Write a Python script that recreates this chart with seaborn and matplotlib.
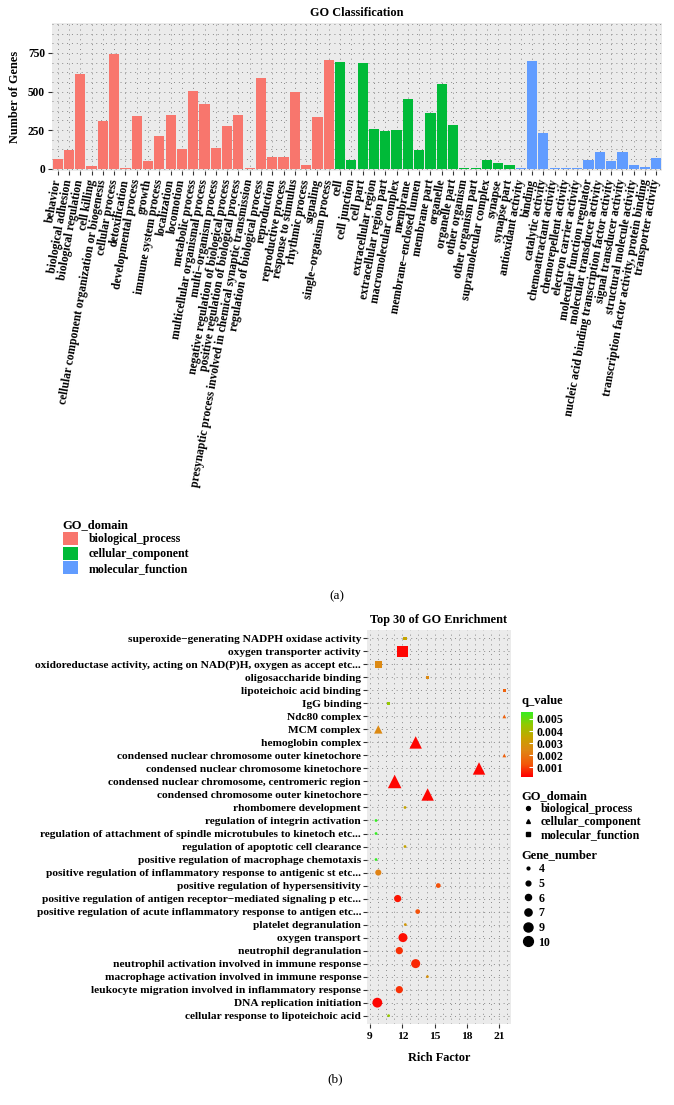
import seaborn as sns
import pandas as pd
import matplotlib.pyplot as plt
from matplotlib.colors import LinearSegmentedColormap, Normalize
from matplotlib.cm import ScalarMappable
from matplotlib.ticker import MultipleLocator
from matplotlib.patches import Patch
from matplotlib.lines import Line2D

plt.rcParams['font.family'] = ['Liberation Serif', 'DejaVu Serif']
plt.rcParams['font.weight'] = 'bold'

# ---- panel (a): GO classification ----
bp_terms = ["behavior", "biological adhesion", "biological regulation", "cell killing",
            "cellular component organization or biogenesis", "cellular process", "detoxification",
            "developmental process", "growth", "immune system process", "localization", "locomotion",
            "metabolic process", "multicellular organismal process", "multi\u2212organism process",
            "negative regulation of biological process", "positive regulation of biological process",
            "presynaptic process involved in chemical synaptic transmission",
            "regulation of biological process", "reproduction", "reproductive process",
            "response to stimulus", "rhythmic process", "signaling", "single\u2212organism process"]
bp_counts = [60, 124, 613, 15, 311, 746, 2, 341, 51, 214, 345, 129, 506, 420, 135,
             279, 345, 2, 585, 75, 75, 497, 21, 336, 703]

cc_terms = ["cell", "cell junction", "cell part", "extracellular region", "extracellular region part",
            "macromolecular complex", "membrane", "membrane\u2212enclosed lumen", "membrane part",
            "organelle", "organelle part", "other organism", "other organism part",
            "supramolecular complex", "synapse", "synapse part"]
cc_counts = [694, 56, 688, 259, 244, 253, 454, 124, 362, 546, 285, 2, 2, 54, 34, 24]

mf_terms = ["antioxidant activity", "binding", "catalytic activity", "chemoattractant activity",
            "chemorepellent activity", "electron carrier activity", "molecular function regulator",
            "molecular transducer activity", "nucleic acid binding transcription factor activity",
            "signal transducer activity", "structural molecule activity",
            "transcription factor activity, protein binding", "transporter activity"]
mf_counts = [4, 696, 229, 2, 2, 2, 58, 109, 51, 109, 24, 11, 71]

domains = ["biological_process", "cellular_component", "molecular_function"]
domain_colors = ["#F8766D", "#00BA38", "#619CFF"]

# ---- panel (b): top 30 GO enrichment ----
enr_terms = ["superoxide\u2212generating NADPH oxidase activity", "oxygen transporter activity",
             "oxidoreductase activity, acting on NAD(P)H, oxygen as accept etc...",
             "oligosaccharide binding", "lipoteichoic acid binding", "IgG binding", "Ndc80 complex",
             "MCM complex", "hemoglobin complex", "condensed nuclear chromosome outer kinetochore",
             "condensed nuclear chromosome kinetochore",
             "condensed nuclear chromosome, centromeric region",
             "condensed chromosome outer kinetochore", "rhombomere development",
             "regulation of integrin activation",
             "regulation of attachment of spindle microtubules to kinetoch etc...",
             "regulation of apoptotic cell clearance", "positive regulation of macrophage chemotaxis",
             "positive regulation of inflammatory response to antigenic st etc...",
             "positive regulation of hypersensitivity",
             "positive regulation of antigen receptor\u2212mediated signaling p etc...",
             "positive regulation of acute inflammatory response to antigen etc...",
             "platelet degranulation", "oxygen transport", "neutrophil degranulation",
             "neutrophil activation involved in immune response",
             "macrophage activation involved in immune response",
             "leukocyte migration involved in inflammatory response", "DNA replication initiation",
             "cellular response to lipoteichoic acid"]
enr_domain = ["molecular_function"] * 6 + ["cellular_component"] * 7 + ["biological_process"] * 17
rich_factor = [12.25, 12.03, 9.77, 14.35, 21.47, 10.73, 21.47, 9.77, 13.24, 21.47, 19.12, 11.29,
               14.35, 12.25, 9.56, 9.56, 12.25, 9.56, 9.77, 15.34, 11.57, 13.43, 12.28, 12.06,
               11.72, 13.24, 14.33, 11.72, 9.68, 10.73]
q_value = [0.0035, 0.0003, 0.0025, 0.0025, 0.0015, 0.0045, 0.0015, 0.0025, 0.0003, 0.0015,
           0.0003, 0.0003, 0.0003, 0.0035, 0.0056, 0.0056, 0.0035, 0.0056, 0.0023, 0.0012,
           0.0005, 0.0012, 0.0030, 0.0004, 0.0008, 0.0007, 0.0028, 0.0008, 0.0003, 0.0045]
gene_number = [4, 9, 6, 4, 4, 4, 4, 6, 9, 4, 9, 10, 9, 4, 4, 4, 4, 4, 6, 5, 7, 5, 4, 9, 7, 9, 4,
               7, 10, 4]

top = pd.DataFrame({
    "term": bp_terms + cc_terms + mf_terms,
    "count": bp_counts + cc_counts + mf_counts,
    "domain": [domains[0]] * len(bp_terms) + [domains[1]] * len(cc_terms) + [domains[2]] * len(mf_terms),
})
enr = pd.DataFrame({"term": enr_terms, "rich": rich_factor, "q": q_value,
                    "domain": enr_domain, "genes": gene_number})

W, H = 674, 1105
fig = plt.figure(figsize=(W / 100, H / 100), dpi=100)

def rect(x0, y0, x1, y1):
    return [x0 / W, 1 - y1 / H, (x1 - x0) / W, (y1 - y0) / H]

grid_kw = dict(color="#8a8a8a", linestyle=(0, (1, 4)), linewidth=0.7)

# panel (a)
ax1 = fig.add_axes(rect(52, 23, 662, 171))
ax1.set_facecolor("#EBEBEB")
sns.barplot(data=top, x="term", y="count", hue="domain", hue_order=domains,
            palette=domain_colors, dodge=False, width=0.9, saturation=1,
            linewidth=0, legend=False, ax=ax1)
ax1.set_axisbelow(True)
for s in ax1.spines.values():
    s.set_visible(False)
ax1.set_ylim(-15, 944)
ax1.set_xlim(-0.5, len(top) - 0.5)
ax1.set_yticks([0, 250, 500, 750])
ax1.yaxis.set_minor_locator(MultipleLocator(62.5))
ax1.grid(which="both", axis="y", **grid_kw)
ax1.grid(which="major", axis="x", **grid_kw)
ax1.tick_params(axis="y", which="minor", length=0)
ax1.tick_params(axis="both", which="major", length=3, color="#333333", labelsize=8.3, pad=2)
ax1.set_xticks(range(len(top)))
ax1.set_xticklabels(top["term"], rotation=80, ha="right", va="center",
                    rotation_mode="anchor", fontsize=8.4, fontweight="bold")
ax1.tick_params(axis="x", pad=3)
ax1.set_xlabel("")
ax1.set_ylabel("Number of Genes", fontsize=8.8, fontweight="bold", labelpad=5)
ax1.set_title("GO Classification", fontsize=8.8, fontweight="bold", pad=5)

fig.legend(handles=[Patch(facecolor=c, edgecolor="none", label=d) for d, c in zip(domains, domain_colors)],
           title="GO_domain", loc="upper left", bbox_to_anchor=(58 / W, 1 - 514 / H),
           frameon=False, fontsize=8.6, title_fontproperties={"weight": "bold", "size": 9},
           handlelength=1.3, handleheight=1.3, labelspacing=0.1, handletextpad=0.9,
           alignment="left", borderaxespad=0)
fig.text(337 / W, 1 - 596 / H, "(a)", fontsize=9.5, fontweight="normal", ha="center", va="center")

# panel (b)
cmap = LinearSegmentedColormap.from_list(
    "rg", ["#FF0000", "#F25A0A", "#DF8514", "#C7A300", "#93C800", "#33EE22"])
q_norm = (0.00023, 0.0056)
markers = {"biological_process": "o", "cellular_component": "^", "molecular_function": "s"}
size_range = (4, 50)
# ggplot's triangles and squares look bigger than circles of the same size
shape_scale = {"biological_process": 1.0, "cellular_component": 1.9, "molecular_function": 1.5}

ax2 = fig.add_axes(rect(367.3, 630, 510.7, 1024))
ax2.set_facecolor("#EBEBEB")
# place all categories first so the row order follows the list
ax2.scatter(enr["rich"], enr["term"], s=0)
for d in domains:
    sub = enr[enr["domain"] == d]
    sns.scatterplot(data=sub, x="rich", y="term", hue="q", size="genes",
                    palette=cmap, hue_norm=q_norm,
                    sizes=(size_range[0] * shape_scale[d], size_range[1] * shape_scale[d]),
                    size_norm=(4, 10), marker=markers[d], linewidth=0, legend=False,
                    ax=ax2, zorder=3)
ax2.set_axisbelow(True)
for s in ax2.spines.values():
    s.set_visible(False)
ax2.set_xlim(8.75, 22.06)
ax2.set_ylim(len(enr) - 0.36, -0.64)
ax2.set_xticks([9, 12, 15, 18, 21])
ax2.xaxis.set_minor_locator(MultipleLocator(0.75))
ax2.grid(which="both", axis="x", **grid_kw)
ax2.grid(which="major", axis="y", **grid_kw)
ax2.tick_params(axis="x", which="minor", length=0)
ax2.tick_params(axis="both", which="major", length=3, color="#333333", labelsize=8.2, pad=1.5)
ax2.tick_params(axis="x", pad=3)
ax2.set_xlabel("Rich Factor", fontsize=8.8, fontweight="bold", labelpad=8)
ax2.set_ylabel("")
ax2.set_title("Top 30 of GO Enrichment", fontsize=8.8, fontweight="bold", pad=5)

cax = fig.add_axes(rect(521, 711.7, 533.3, 776.7))
cb = fig.colorbar(ScalarMappable(norm=Normalize(*q_norm), cmap=cmap), cax=cax,
                  ticks=[0.001, 0.002, 0.003, 0.004, 0.005], format="%.3f")
cb.outline.set_visible(False)
cax.tick_params(color="white", length=3, width=0.8, direction="in", labelsize=8.6, pad=2)
fig.text(521 / W, 1 - 701 / H, "q_value", fontsize=9, fontweight="bold", va="center")

shape_handles = [Line2D([], [], marker=markers[d], color="black", linestyle="", markersize=2.8,
                        label=d) for d in domains]
fig.legend(handles=shape_handles, title="GO_domain", loc="upper left",
           bbox_to_anchor=(517 / W, 1 - 785 / H), frameon=False, fontsize=8.6,
           title_fontproperties={"weight": "bold", "size": 9}, handlelength=1.0,
           labelspacing=0.1, handletextpad=0.6, alignment="left", borderaxespad=0)

size_vals = sorted(set(gene_number))
size_handles = []
for v in size_vals:
    area = size_range[0] + (v - 4) / (10 - 4) * (size_range[1] - size_range[0])
    size_handles.append(Line2D([], [], marker="o", color="black", linestyle="",
                               markersize=area ** 0.5, label=str(v)))
fig.legend(handles=size_handles, title="Gene_number", loc="upper left",
           bbox_to_anchor=(517 / W, 1 - 844 / H), frameon=False, fontsize=8.6,
           title_fontproperties={"weight": "bold", "size": 9}, handlelength=1.0,
           labelspacing=0.22, handletextpad=0.4, alignment="left", borderaxespad=0)

fig.text(335 / W, 1 - 1079 / H, "(b)", fontsize=9.5, fontweight="normal", ha="center", va="center")

fig.savefig("out.png", dpi=100, facecolor="white")
